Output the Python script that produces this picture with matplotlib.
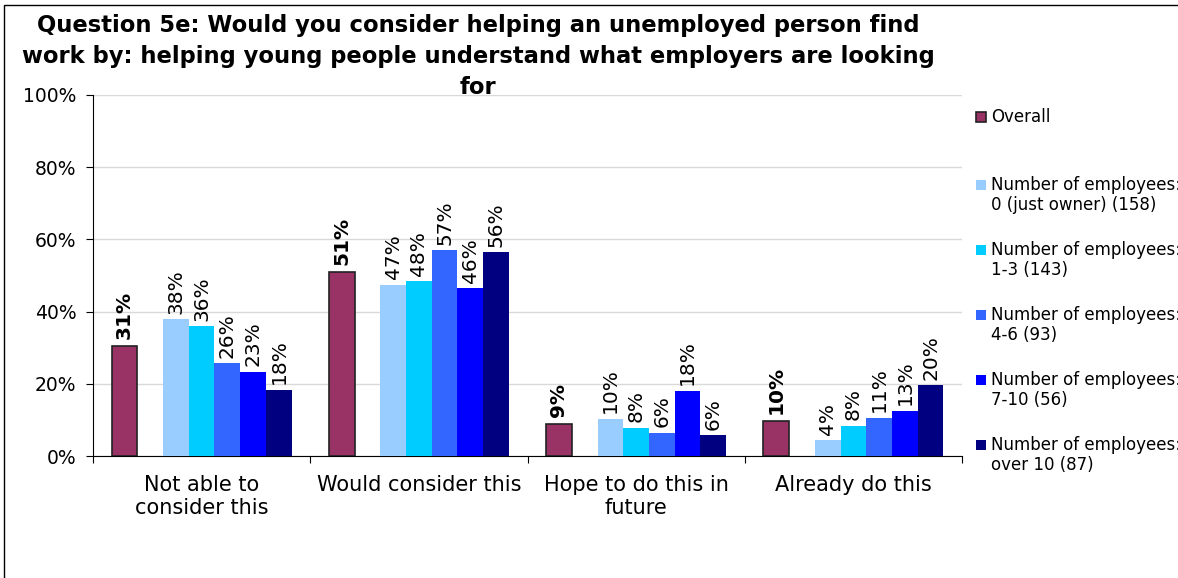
import matplotlib.pyplot as plt
import numpy as np
from matplotlib.patches import Rectangle

title = ("Question 5e: Would you consider helping an unemployed person find\n"
         "work by: helping young people understand what employers are looking\n"
         "for")

categories = ["Not able to\nconsider this", "Would consider this",
              "Hope to do this in\nfuture", "Already do this"]

# percentages
overall = [30.6, 50.9, 8.8, 9.6]
emp_0 = [37.9, 47.4, 10.3, 4.4]
emp_1_3 = [35.9, 48.4, 7.8, 8.4]
emp_4_6 = [25.7, 57.0, 6.4, 10.6]
emp_7_10 = [23.4, 46.4, 18.0, 12.6]
emp_over_10 = [18.4, 56.4, 5.8, 19.6]

overall_name = "Overall"
group_names = [
    "Number of employees:\n0 (just owner) (158)",
    "Number of employees:\n1-3 (143)",
    "Number of employees:\n4-6 (93)",
    "Number of employees:\n7-10 (56)",
    "Number of employees:\nover 10 (87)",
]

yticks = [0, 20, 40, 60, 80, 100]


def main():
    W, H = 1178, 578
    plt.rc('font', family='DejaVu Sans')
    fig = plt.figure(figsize=(W / 100, H / 100), dpi=100)
    ax = fig.add_axes([93 / W, 1 - 456 / H, (962 - 93) / W, (456 - 95) / H])

    overall_color = '#993366'
    colors = ['#99CCFF', '#00CCFF', '#3366FF', '#0000FF', '#000080']
    groups = [emp_0, emp_1_3, emp_4_6, emp_7_10, emp_over_10]

    x = np.arange(len(categories))
    w = 0.1185
    lab_size = 14.5

    # overall bar sits alone on the left, one empty slot, then the 5 groups
    ax.bar(x - 3 * w, overall, w, color=overall_color,
           edgecolor='#222222', linewidth=1.2, zorder=3)
    for xi, v in zip(x - 3 * w, overall):
        ax.annotate('%.0f%%' % v, (xi, v), xytext=(0, 5),
                    textcoords='offset points', rotation=90,
                    ha='center', va='bottom', fontsize=lab_size,
                    fontweight='bold')

    for k, vals in enumerate(groups):
        pos = x + (k - 1) * w
        ax.bar(pos, vals, w, color=colors[k], linewidth=0, zorder=3)
        for xi, v in zip(pos, vals):
            ax.annotate('%.0f%%' % v, (xi, v), xytext=(0, 4),
                        textcoords='offset points', rotation=90,
                        ha='center', va='bottom', fontsize=lab_size)

    ax.set_ylim(0, 100)
    ax.set_xlim(-0.5, len(categories) - 0.5)
    ax.set_yticks(yticks)
    ax.set_yticklabels(['%d%%' % t for t in yticks], fontsize=13.5)
    ax.yaxis.grid(True, color='#d9d9d9', linewidth=1)
    ax.set_axisbelow(True)

    ax.set_xticks(np.arange(len(categories) + 1) - 0.5)
    ax.set_xticklabels([])
    ax.set_xticks(x, minor=True)
    ax.set_xticklabels(categories, minor=True, fontsize=15, linespacing=1.15)
    ax.tick_params(axis='x', which='major', length=5, direction='out')
    ax.tick_params(axis='x', which='minor', length=0, pad=14)
    ax.tick_params(axis='y', length=5, direction='out', pad=7)

    ax.spines['top'].set_visible(False)
    ax.spines['right'].set_visible(False)

    fig.text(478 / W, 1 - 14 / H, title, ha='center', va='top',
             fontsize=16.3, fontweight='bold', linespacing=1.45)

    # legend drawn by hand to keep Excel's even slots
    marker_y = [117, 185, 250, 315, 380, 445]
    names = [overall_name] + group_names
    fills = [overall_color] + colors
    for i, (name, c, my) in enumerate(zip(names, fills, marker_y)):
        ec = '#222222' if i == 0 else 'none'
        fig.add_artist(Rectangle((976 / W, 1 - (my + 5) / H), 10 / W, 10 / H,
                                 transform=fig.transFigure, facecolor=c,
                                 edgecolor=ec, linewidth=1.2))
        if i == 0:
            fig.text(991 / W, 1 - my / H, name, va='center', fontsize=12)
        else:
            fig.text(991 / W, 1 - (my - 9) / H, name, va='top',
                     fontsize=12, linespacing=1.15)

    # chart border (right and bottom edges fall outside the image)
    fig.add_artist(Rectangle((4 / W, -0.1), 2, 1.1 - 5 / H, fill=False,
                             edgecolor='black', linewidth=1,
                             transform=fig.transFigure))

    plt.savefig('out.png', dpi=100)


if __name__ == '__main__':
    main()
